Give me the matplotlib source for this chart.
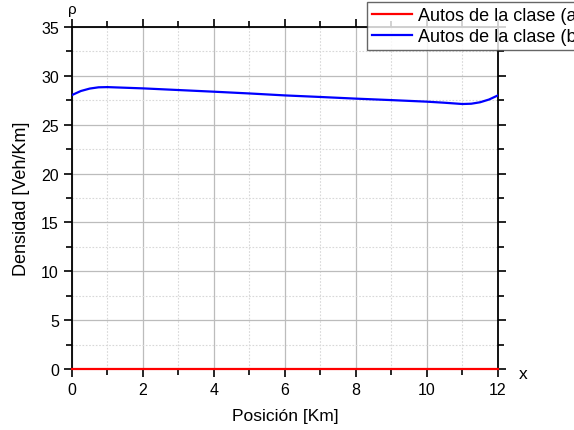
import matplotlib.pyplot as plt
from matplotlib.ticker import MultipleLocator

plt.rcParams['font.family'] = ['Liberation Sans', 'DejaVu Sans']

# posiciones y densidades
pos = [0, 0.25, 0.5, 0.75, 1.0, 2.0, 3.0, 4.0, 5.0, 6.0, 7.0, 8.0, 9.0, 10.0, 10.5, 11.0, 11.25, 11.5, 11.75, 12.0]
dens_b = [28.04, 28.45, 28.7, 28.83, 28.85, 28.72, 28.55, 28.38, 28.2, 28.0, 27.84, 27.67, 27.52, 27.36, 27.25, 27.12, 27.15, 27.3, 27.58, 28.0]
pos_a = [0, 12]
dens_a = [0, 0]

fig = plt.figure(figsize=(5.74, 4.31), dpi=100)
ax = fig.add_axes([0.1254, 0.1415, 0.742, 0.7935])

ax.plot(pos_a, dens_a, color='#ff0000', lw=1.6, label='Autos de la clase (a)', clip_on=False, zorder=5)
ax.plot(pos, dens_b, color='#0000ff', lw=1.6, label='Autos de la clase (b)', zorder=5)

ax.set_xlim(0, 12)
ax.set_ylim(0, 35)
ax.xaxis.set_major_locator(MultipleLocator(2))
ax.xaxis.set_minor_locator(MultipleLocator(1))
ax.yaxis.set_major_locator(MultipleLocator(5))
ax.yaxis.set_minor_locator(MultipleLocator(2.5))

ax.grid(which='major', color='#bcbcbc', lw=0.9)
ax.grid(which='minor', color='#d8d8d8', lw=0.8, ls=(0, (1.5, 1.5)))
ax.set_axisbelow(True)

ax.tick_params(which='both', direction='out', top=True, right=True, labelsize=11.5, width=1.2)
ax.tick_params(which='major', length=6)
ax.tick_params(which='minor', length=4)
for s in ax.spines.values():
    s.set_linewidth(1.3)

ax.set_xlabel('Posición [Km]', fontsize=12.5, labelpad=8)
ax.set_ylabel('Densidad [Veh/Km]', fontsize=13, labelpad=8)

fig.text(72 / 574, 1 - 10 / 431, 'ρ', fontsize=11, ha='center', va='center')
fig.text(523 / 574, 1 - 375 / 431, 'x', fontsize=12.5, ha='center', va='center')

leg = fig.legend(loc='upper left', bbox_to_anchor=(367 / 574, 1 - 3 / 431), fontsize=13,
                 frameon=True, fancybox=False, borderpad=0.3, handlelength=2.2,
                 handletextpad=0.3, labelspacing=0.2, borderaxespad=0)
leg.get_frame().set_edgecolor('#404040')
leg.get_frame().set_linewidth(1.0)

fig.savefig('out.png', dpi=100)
